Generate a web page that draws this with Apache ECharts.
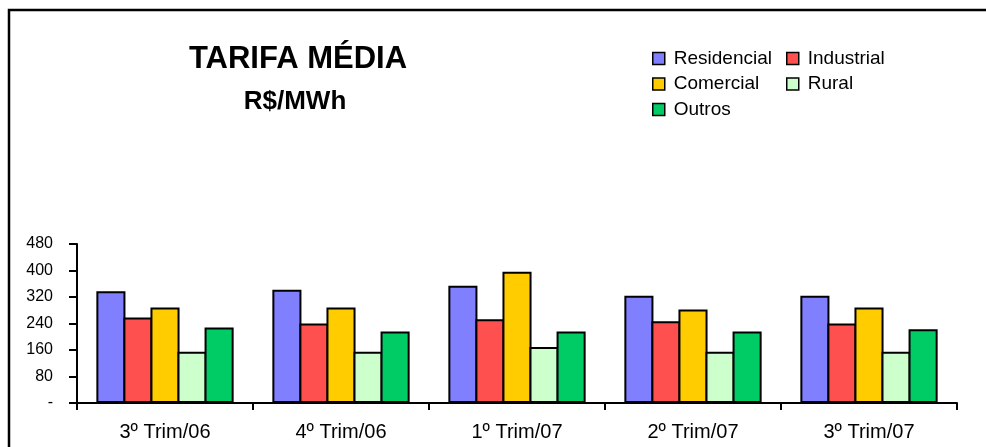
<!DOCTYPE html>
<html>
<head>
<meta charset="utf-8">
<script src="https://cdn.jsdelivr.net/npm/echarts@6/dist/echarts.min.js"></script>
<style>
  html, body { margin: 0; padding: 0; background: #fff; }
  #chart { width: 986px; height: 447px; }
</style>
</head>
<body>
<div id="chart"></div>
<script>
// Quarterly average tariff by consumer class, R$/MWh
const categories = ['3º Trim/06', '4º Trim/06', '1º Trim/07', '2º Trim/07', '3º Trim/07'];
const residencial = [337, 342, 354, 324, 324];
const industrial  = [258, 240, 253, 247, 240];
const comercial   = [288, 288, 396, 282, 288];
const rural       = [155, 155, 169, 155, 155];
const outros      = [228, 216, 216, 216, 223];
const yTicks = { min: 0, max: 480, interval: 80 };

const FONT = '"Liberation Sans", Arial, sans-serif';

function bar(name, data, color) {
  return {
    name: name,
    type: 'bar',
    data: data,
    barGap: '-7%',
    barCategoryGap: '22%',
    itemStyle: { color: color, borderColor: '#000', borderWidth: 2 }
  };
}

const chart = echarts.init(document.getElementById('chart'), null, { renderer: 'canvas' });

const legendBase = {
  orient: 'vertical',
  icon: 'rect',
  itemWidth: 12,
  itemHeight: 12,
  itemGap: 6.5,
  top: 44,
  textStyle: { fontFamily: FONT, fontSize: 19, color: '#000', lineHeight: 19, padding: [0, 0, 0, 4] },
  itemStyle: { borderColor: '#000', borderWidth: 1.5 },
  selectedMode: false
};

chart.setOption({
  animation: false,
  backgroundColor: '#fff',
  textStyle: { fontFamily: FONT },
  title: [
    {
      text: 'TARIFA MÉDIA',
      left: 293, top: 39, textAlign: 'center',
      textStyle: { fontFamily: FONT, fontSize: 31, fontWeight: 'bold', color: '#000' }
    },
    {
      text: 'R$/MWh',
      left: 290, top: 84, textAlign: 'center',
      textStyle: { fontFamily: FONT, fontSize: 26, fontWeight: 'bold', color: '#000' }
    }
  ],
  legend: [
    Object.assign({}, legendBase, { left: 647, data: ['Residencial', 'Comercial', 'Outros'] }),
    Object.assign({}, legendBase, { left: 781, data: ['Industrial', 'Rural'] })
  ],
  grid: { left: 77, right: 29, top: 244, bottom: 44 },
  xAxis: {
    type: 'category',
    data: categories,
    axisLine: { lineStyle: { color: '#000', width: 2 } },
    axisTick: { show: true, length: 7, lineStyle: { color: '#000', width: 2 } },
    axisLabel: { color: '#000', fontSize: 20, margin: 19, fontFamily: FONT }
  },
  yAxis: {
    type: 'value',
    min: yTicks.min,
    max: yTicks.max,
    interval: yTicks.interval,
    axisLine: { show: true, lineStyle: { color: '#000', width: 2 } },
    axisTick: { show: true, length: 8, lineStyle: { color: '#000', width: 2 } },
    splitLine: { show: false },
    axisLabel: {
      color: '#000', fontSize: 16, margin: 24, fontFamily: FONT,
      formatter: v => (v === 0 ? '-' : String(v))
    }
  },
  series: [
    bar('Residencial', residencial, '#8080FF'),
    bar('Industrial', industrial, '#FF5050'),
    bar('Comercial', comercial, '#FFCC00'),
    bar('Rural', rural, '#CCFFCC'),
    bar('Outros', outros, '#00CC66')
  ],
  graphic: [
    {
      type: 'polyline',
      shape: { points: [[9, 447], [9, 10], [986, 10]] },
      style: { stroke: '#000', lineWidth: 2.5, fill: null },
      silent: true
    }
  ]
});
</script>
</body>
</html>
